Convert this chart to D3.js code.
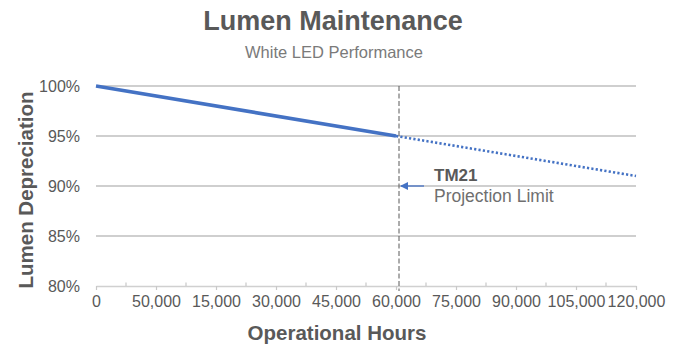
<!DOCTYPE html>
<html>
<head>
<meta charset="utf-8">
<script src="https://cdn.jsdelivr.net/npm/d3@7"></script>
<style>
  html, body { margin: 0; padding: 0; background: #fff; }
  svg { display: block; font-family: "Liberation Sans", Arial, sans-serif; }
</style>
</head>
<body>
<svg id="chart" width="683" height="347"></svg>
<script>
// Category labels along the hours axis
const hourLabels = ["0", "50,000", "15,000", "30,000", "45,000", "60,000", "75,000", "90,000", "105,000", "120,000"];
// Percent ticks on the lumen axis
const pctTicks = [80, 85, 90, 95, 100];
// Measured lumen output (solid) and TM-21 projection (dotted)
const measured = [{ cat: "0", value: 100 }, { cat: "60,000", value: 95 }];
const projected = [{ cat: "60,000", value: 95 }, { cat: "120,000", value: 91 }];
// Where the TM-21 projection limit sits
const limitCat = "60,000";
const limitValue = 90;

const svg = d3.select("#chart");
const margin = { left: 96, right: 47, top: 86, bottom: 61 };
const W = 683, H = 347;

const x = d3.scalePoint().domain(hourLabels).range([margin.left, W - margin.right]);
const y = d3.scaleLinear().domain([80, 100]).range([H - margin.bottom, margin.top]);

const textCol = "#595959";
const blue = "#4472C4";

// Title and subtitle
svg.append("text").attr("x", 333).attr("y", 30).attr("text-anchor", "middle")
  .attr("font-size", 27).attr("font-weight", "bold").attr("fill", textCol)
  .text("Lumen Maintenance");
svg.append("text").attr("x", 334).attr("y", 58).attr("text-anchor", "middle")
  .attr("font-size", 16.5).attr("fill", "#7a7a7a")
  .text("White LED Performance");

// Horizontal gridlines (the 80% line is the axis itself)
svg.append("g").selectAll("line").data(pctTicks.filter(d => d > 80)).join("line")
  .attr("x1", x.range()[0]).attr("x2", x.range()[1])
  .attr("y1", d => y(d)).attr("y2", d => y(d))
  .attr("stroke", "#bfbfbf").attr("stroke-width", 1.3);

// Y axis labels
const yAxis = d3.axisLeft(y).tickValues(pctTicks).tickFormat(d => d + "%").tickSize(0).tickPadding(16);
const gy = svg.append("g").attr("transform", `translate(${margin.left},0)`).call(yAxis);
gy.select(".domain").remove();
gy.selectAll("text").attr("font-size", 16).attr("fill", textCol)
  .attr("font-family", "Liberation Sans, Arial, sans-serif");

// X axis with major ticks pointing down
const xAxis = d3.axisBottom(x).tickSize(4).tickSizeOuter(0).tickPadding(6);
const gx = svg.append("g").attr("transform", `translate(0,${y(80)})`).call(xAxis);
gx.select(".domain").attr("stroke", "#d0d0d0").attr("stroke-width", 1.6);
gx.selectAll(".tick line").attr("stroke", "#c8c8c8").attr("stroke-width", 1.2);
gx.selectAll("text").attr("font-size", 16).attr("fill", textCol)
  .attr("font-family", "Liberation Sans, Arial, sans-serif");

// Minor ticks halfway between categories, pointing up
const mids = d3.pairs(hourLabels).map(([a, b]) => (x(a) + x(b)) / 2);
svg.append("g").selectAll("line").data(mids).join("line")
  .attr("x1", d => d).attr("x2", d => d)
  .attr("y1", y(80)).attr("y2", y(80) - 3.5)
  .attr("stroke", "#c8c8c8").attr("stroke-width", 1.2);

// Projection limit marker
svg.append("line")
  .attr("x1", x(limitCat) + 3).attr("x2", x(limitCat) + 3)
  .attr("y1", y(100)).attr("y2", y(80) + 5)
  .attr("stroke", textCol).attr("stroke-width", 1).attr("stroke-dasharray", "5,2.5");

// Lines
const line = d3.line().x(d => x(d.cat)).y(d => y(d.value));
svg.append("path").datum(projected).attr("d", line)
  .attr("fill", "none").attr("stroke", blue).attr("stroke-width", 2.6)
  .attr("stroke-dasharray", "2.2,2.2");
svg.append("path").datum(measured).attr("d", line)
  .attr("fill", "none").attr("stroke", blue).attr("stroke-width", 3.6);

// Annotation arrow and text
const ax = x(limitCat) + 3, ay = y(limitValue);
svg.append("defs").append("marker").attr("id", "arrow")
  .attr("viewBox", "0 0 10 10").attr("refX", 0).attr("refY", 5)
  .attr("markerWidth", 8).attr("markerHeight", 8).attr("markerUnits", "userSpaceOnUse")
  .attr("orient", "auto-start-reverse")
  .append("path").attr("d", "M10,0 L0,5 L10,10 Z").attr("fill", blue);
svg.append("line")
  .attr("x1", ax + 25).attr("x2", ax + 2).attr("y1", ay).attr("y2", ay)
  .attr("stroke", blue).attr("stroke-width", 1.3).attr("marker-end", null)
  .attr("marker-start", null);
svg.append("path")
  .attr("d", `M${ax + 1},${ay} L${ax + 9},${ay - 4} L${ax + 9},${ay + 4} Z`)
  .attr("fill", blue);
svg.append("text").attr("x", 434).attr("y", ay - 5)
  .attr("font-size", 17).attr("font-weight", "bold").attr("fill", textCol).text("TM21");
svg.append("text").attr("x", 434).attr("y", ay + 16)
  .attr("font-size", 17.5).attr("fill", "#6f6f6f").text("Projection Limit");

// Axis titles
svg.append("text").attr("x", 337).attr("y", 340).attr("text-anchor", "middle")
  .attr("font-size", 20.5).attr("font-weight", "bold").attr("fill", textCol)
  .text("Operational Hours");
svg.append("text").attr("transform", `translate(33,190) rotate(-90)`)
  .attr("text-anchor", "middle")
  .attr("font-size", 20.5).attr("font-weight", "bold").attr("fill", textCol)
  .text("Lumen Depreciation");
</script>
</body>
</html>
